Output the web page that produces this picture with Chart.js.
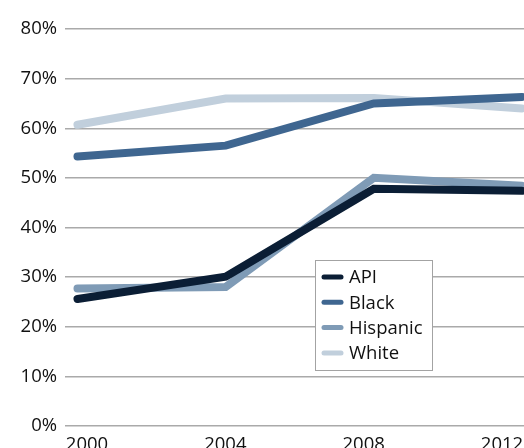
<!DOCTYPE html>
<html>
<head>
<meta charset="utf-8">
<script src="https://cdn.jsdelivr.net/npm/chart.js@4/dist/chart.umd.min.js"></script>
<style>
  html, body { margin: 0; padding: 0; background: #fff; }
  #wrap { position: relative; width: 524px; height: 448px; }
</style>
</head>
<body>
<div id="wrap"><canvas id="c" width="524" height="448"></canvas></div>
<script>
// Election years on the x axis
const years = [2000, 2004, 2008, 2012];

// Turnout share (%) per group
const api      = [25.6, 30.1, 47.8, 47.4];
const black    = [54.3, 56.5, 65.0, 66.3];
const hispanic = [27.7, 28.0, 50.0, 48.4];
const white    = [60.7, 66.0, 66.1, 64.0];

// Y axis tick values (%)
const yTicks = [0, 10, 20, 30, 40, 50, 60, 70, 80];

const seriesNames  = ['API', 'Black', 'Hispanic', 'White'];
const seriesValues = [api, black, hispanic, white];
const seriesColors = ['#0b1e35', '#3f6690', '#7f9bb6', '#c1cfdc'];

const FONT = "'Open Sans', 'Noto Sans', sans-serif";

const datasets = seriesNames.map((name, i) => ({
  label: name,
  data: years.map((y, j) => ({ x: y, y: seriesValues[i][j] })),
  borderColor: seriesColors[i],
  backgroundColor: seriesColors[i],
  borderWidth: 8,
  borderCapStyle: 'round',
  borderJoinStyle: 'miter',
  pointRadius: 0,
  tension: 0,
  fill: false,
  clip: 6
}));

// Boxed legend drawn inside the plot area
const boxLegend = {
  id: 'boxLegend',
  afterDraw(chart) {
    const ctx = chart.ctx;
    const bx = 315.5, by = 260.5, bw = 117, bh = 110;
    ctx.save();
    ctx.fillStyle = '#ffffff';
    ctx.fillRect(bx, by, bw, bh);
    ctx.strokeStyle = '#a3a3a3';
    ctx.lineWidth = 1;
    ctx.strokeRect(bx, by, bw, bh);
    ctx.font = '18.5px ' + FONT;
    ctx.textBaseline = 'middle';
    ctx.textAlign = 'left';
    chart.data.datasets.forEach((ds, i) => {
      const cy = 277 + i * 25.3;
      ctx.strokeStyle = ds.borderColor;
      ctx.lineWidth = 5;
      ctx.lineCap = 'round';
      ctx.beginPath();
      ctx.moveTo(324, cy);
      ctx.lineTo(341, cy);
      ctx.stroke();
      ctx.fillStyle = '#111111';
      ctx.fillText(ds.label, 349, cy + 1);
    });
    ctx.restore();
  }
};

new Chart(document.getElementById('c'), {
  type: 'line',
  data: { datasets },
  plugins: [boxLegend],
  options: {
    responsive: false,
    animation: false,
    layout: { padding: { top: 29, right: 0, left: 0, bottom: 0 } },
    plugins: { legend: { display: false }, tooltip: { enabled: false } },
    scales: {
      x: {
        type: 'linear',
        min: 1999.663,
        max: 2012.054,
        display: false
      },
      xl: {
        type: 'linear',
        position: 'bottom',
        min: 1999.364,
        max: 2012.636,
        grid: { display: false },
        border: { display: false },
        afterBuildTicks(scale) { scale.ticks = years.map(v => ({ value: v })); },
        afterFit(scale) { scale.height = 22; },
        ticks: {
          autoSkip: false,
          maxRotation: 0,
          padding: 0,
          color: '#111',
          font: { family: FONT, size: 18.5 },
          callback: v => String(v)
        }
      },
      y: {
        min: 0,
        max: 80,
        afterBuildTicks(scale) { scale.ticks = yTicks.map(v => ({ value: v })); },
        afterFit(scale) { scale.width = 65; },
        border: { display: false },
        grid: { color: '#aaaaaa', lineWidth: 1.5, drawTicks: false },
        ticks: {
          padding: 8,
          color: '#111',
          font: { family: FONT, size: 18.5 },
          callback: v => v + '%'
        }
      }
    }
  }
});
</script>
</body>
</html>
